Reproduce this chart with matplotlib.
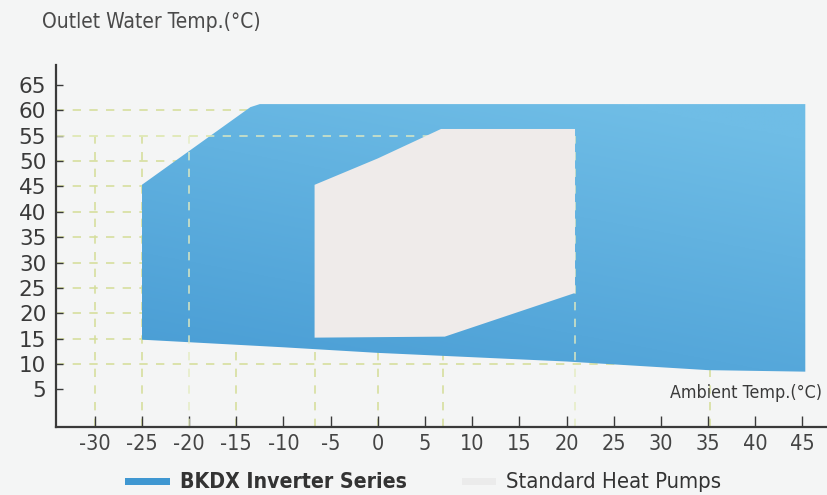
import matplotlib
matplotlib.use("Agg")
import matplotlib.pyplot as plt
import numpy as np
from matplotlib.patches import Polygon, Rectangle

# operating envelopes (ambient temp, outlet water temp)
bkdx_x = [-25, -25, -13.5, -12.5, 45.3, 45.3, 35, 20, 0, -10, -25]
bkdx_y = [14.8, 45.3, 60.6, 61.2, 61.2, 8.5, 8.8, 10.5, 12.2, 13.3, 14.8]

std_x = [-6.7, -6.7, 0, 6.7, 20.9, 20.9, 7.1, -6.7]
std_y = [15.2, 45.3, 50.5, 56.3, 56.3, 24.0, 15.4, 15.2]

x_ticks = [-30, -25, -20, -15, -10, -5, 0, 5, 10, 15, 20, 25, 30, 35, 40, 45]
y_ticks = [5, 10, 15, 20, 25, 30, 35, 40, 45, 50, 55, 60, 65]

# dashed guide lines
back_h = [10, 15, 20, 25, 30, 35, 40, 45, 50, 55, 60]
back_v = [-30, -25, -15, -6.7, 0, 6.9, 35.2]
front_h = [55]
front_v = [-20, 20.9]

labels = ["BKDX Inverter Series", "Standard Heat Pumps"]

bg = "#f4f5f5"
dark = "#3a3a3a"
guide = "#d6df9e"
narrow = dict(family="DejaVu Sans", fontstretch="condensed")

fig = plt.figure(figsize=(8.27, 4.95), dpi=100, facecolor=bg)
ax = fig.add_axes([56 / 827, 68 / 495, 1 - 56 / 827, 362 / 495])
ax.set_facecolor(bg)
xmin, xmax = -34.1, 47.6
ymin, ymax = -2.4, 68.9
ax.set_xlim(xmin, xmax)
ax.set_ylim(ymin, ymax)

dash = dict(color=guide, lw=1.2, ls=(0, (5, 5)))
for y in back_h:
    ax.plot([xmin, 45], [y, y], zorder=1, **dash)
for x in back_v:
    ax.plot([x, x], [ymin, 55], zorder=1, **dash)

# blue envelope with a soft gradient
blue_poly = Polygon(np.column_stack([bkdx_x, bkdx_y]), closed=True,
                    facecolor="none", edgecolor="none")
ax.add_patch(blue_poly)
gy, gx = np.mgrid[0:1:200j, 0:1:200j]
t = np.clip(0.75 * gy + 0.35 * gx, 0, 1)
c0 = np.array([0x48, 0x9c, 0xd4]) / 255
c1 = np.array([0x6f, 0xbd, 0xe6]) / 255
img = c0[None, None, :] * (1 - t[..., None]) + c1[None, None, :] * t[..., None]
im = ax.imshow(img, extent=[-25, 45.3, 8.5, 61.2], origin="lower",
               aspect="auto", zorder=2)
im.set_clip_path(blue_poly)

dash_front = dict(color="#e4ecc0", lw=1.2, ls=(0, (5, 5)), alpha=0.85)
for y in front_h:
    ax.plot([xmin, 7], [y, y], zorder=3, **dash_front)
for x in front_v:
    ax.plot([x, x], [ymin, 55], zorder=3, **dash_front)

ax.add_patch(Polygon(np.column_stack([std_x, std_y]), closed=True,
                     facecolor="#efebea", edgecolor="none", zorder=4))

for s in ["top", "right"]:
    ax.spines[s].set_visible(False)
for s in ["left", "bottom"]:
    ax.spines[s].set_color(dark)
    ax.spines[s].set_linewidth(1.6)
    ax.spines[s].set_zorder(5)

ax.set_xticks(x_ticks)
ax.set_yticks(y_ticks)
ax.set_xticklabels([str(v) for v in x_ticks], fontsize=15.5, **narrow)
ax.set_yticklabels([str(v) for v in y_ticks], fontsize=15.5)
ax.tick_params(axis="x", direction="in", length=8, width=1, color=dark,
               labelcolor="#444444", pad=5)
ax.tick_params(axis="y", direction="in", length=5, width=1, color=dark,
               labelcolor="#3a3a3a", pad=7)

fig.text(42 / 827, 1 - 22 / 495, "Outlet Water Temp.(°C)", fontsize=15,
         color="#4a4a4a", va="center", ha="left", **narrow)
fig.text(822 / 827, 1 - 393 / 495, "Ambient Temp.(°C)", fontsize=12.8,
         color="#3a3a3a", va="center", ha="right", **narrow)

# legend
ly = 1 - 482 / 495
fig.patches.append(Rectangle((125 / 827, 1 - 485 / 495), 45 / 827, 7 / 495,
                             transform=fig.transFigure, facecolor="#3f97d1",
                             edgecolor="none"))
fig.text(180 / 827, ly, labels[0], fontsize=15.2, fontweight="bold",
         color="#333333", va="center", ha="left", **narrow)
fig.patches.append(Rectangle((462 / 827, 1 - 485 / 495), 34 / 827, 7 / 495,
                             transform=fig.transFigure, facecolor="#ebebeb",
                             edgecolor="none"))
fig.text(506 / 827, ly, labels[1], fontsize=15.8, color="#333333",
         va="center", ha="left", **narrow)

fig.savefig("out.png", dpi=100, facecolor=bg)
